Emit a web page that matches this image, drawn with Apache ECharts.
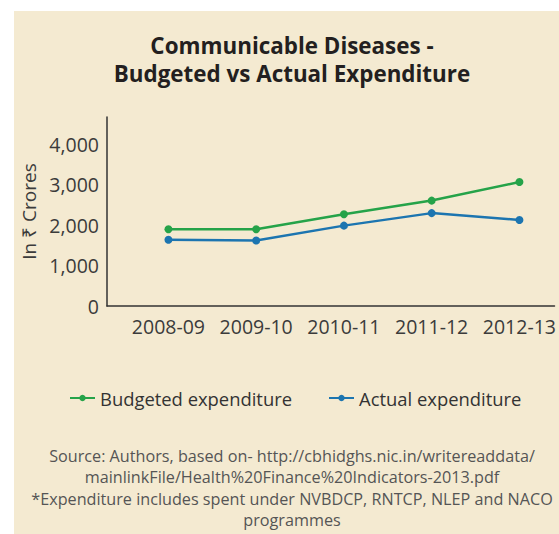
<!DOCTYPE html>
<html>
<head>
  <meta charset="utf-8">
  <title>Communicable Diseases - Budgeted vs Actual Expenditure</title>
  <style>
html, body {
  margin: 0;
  padding: 0;
  background: #fff;
}
#chart {
  width: 559px;
  height: 534px;
  /* beige panel, white strip on the top and left */
  background: linear-gradient(#f4ead1, #f4ead1) 14px 11px / 545px 523px no-repeat, #fff;
}
  </style>
</head>
<body>
  <div id="chart"></div>
  <script src="https://cdn.jsdelivr.net/npm/echarts@6/dist/echarts.min.js"></script>
  <script>
  const years = ['2008-09', '2009-10', '2010-11', '2011-12', '2012-13'];
  const budgeted = [1900, 1900, 2270, 2610, 3070];
  const actual = [1640, 1620, 1990, 2300, 2130];
  const yTicks = [0, 1000, 2000, 3000, 4000];

  const titleLines = ['Communicable Diseases -', 'Budgeted vs Actual Expenditure'];
  const sourceLines = [
    'Source: Authors, based on- http://cbhidghs.nic.in/writereaddata/',
    'mainlinkFile/Health%20Finance%20Indicators-2013.pdf',
    '*Expenditure includes spent under NVBDCP, RNTCP, NLEP and NACO',
    'programmes'
  ];

  const font = 'Open Sans';
  const green = '#25a349';
  const blue = '#1c75b0';

  // pair each value with its category index, x axis is a value axis
  const toPoints = (vals) => vals.map((v, i) => [i, v]);

  const chart = echarts.init(document.getElementById('chart'), null, { renderer: 'svg' });

  const option = {
    animation: false,
    textStyle: { fontFamily: font },
    grid: { left: 107, right: 1, top: 117, bottom: 228 },
    xAxis: {
      type: 'value',
      min: -0.7,
      max: 4.4,
      splitLine: { show: false },
      axisTick: { show: false },
      axisLine: { show: true, onZero: false, lineStyle: { color: '#333', width: 1.5 } },
      axisLabel: {
        customValues: years.map((y, i) => i),
        formatter: (v) => years[v] || '',
        color: '#3b3b3b',
        fontSize: 19.5,
        margin: 10
      }
    },
    yAxis: {
      type: 'value',
      min: 0,
      max: 4680,
      name: 'In ₹ Crores',
      nameLocation: 'middle',
      nameGap: 68,
      nameTextStyle: { color: '#3b3b3b', fontSize: 19 },
      splitLine: { show: false },
      axisTick: { show: false },
      axisLine: { show: true, onZero: false, lineStyle: { color: '#333', width: 1.5 } },
      axisLabel: {
        customValues: yTicks,
        formatter: (v) => v.toLocaleString('en-US'),
        color: '#3b3b3b',
        fontSize: 19.5,
        margin: 8
      }
    },
    legend: {
      left: 69,
      top: 388,
      padding: 0,
      itemWidth: 25,
      itemHeight: 8,
      itemGap: 36,
      textStyle: { color: '#333', fontSize: 18.4, lineHeight: 20 },
      data: ['Budgeted expenditure', 'Actual expenditure']
    },
    series: [
      {
        name: 'Budgeted expenditure',
        type: 'line',
        data: toPoints(budgeted),
        symbol: 'circle',
        symbolSize: 8,
        color: green,
        lineStyle: { width: 2.5 }
      },
      {
        name: 'Actual expenditure',
        type: 'line',
        data: toPoints(actual),
        symbol: 'circle',
        symbolSize: 8,
        color: blue,
        lineStyle: { width: 2.5 }
      }
    ],
    graphic: [
      {
        type: 'text',
        style: {
          text: titleLines.join('\n'),
          x: 292,
          y: 59,
          align: 'center',
          verticalAlign: 'middle',
          fontFamily: font,
          fontWeight: 'bold',
          fontSize: 22.4,
          lineHeight: 28,
          fill: '#231f20'
        }
      },
      {
        type: 'text',
        style: {
          text: sourceLines.join('\n'),
          x: 292,
          y: 488,
          align: 'center',
          verticalAlign: 'middle',
          fontFamily: font,
          fontSize: 16.2,
          lineHeight: 21.2,
          fill: '#555'
        }
      }
    ]
  };

  chart.setOption(option);
  </script>
</body>
</html>
